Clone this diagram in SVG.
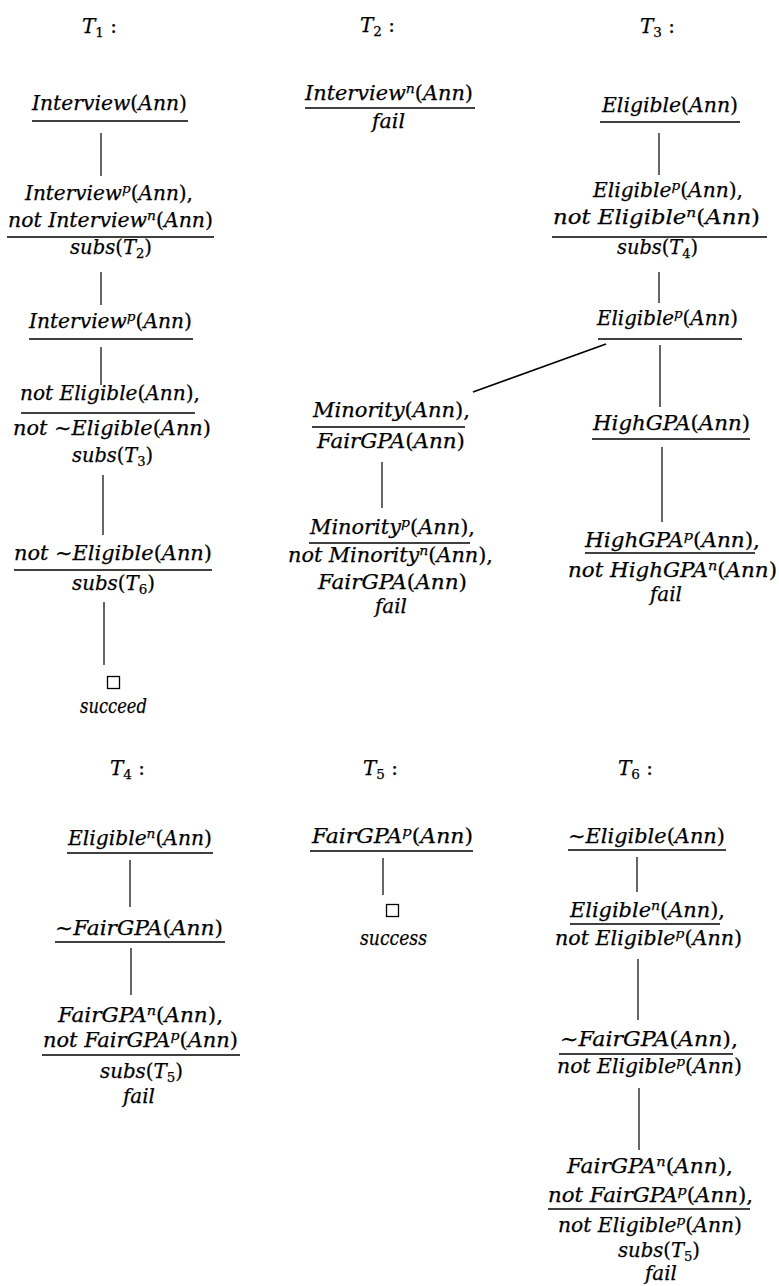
<svg xmlns="http://www.w3.org/2000/svg" width="779" height="1286" viewBox="0 0 779 1286">
<style>
.t{font-family:"DejaVu Serif","Liberation Serif",serif;font-style:italic;font-size:20px;fill:#000;stroke:#000;stroke-width:0.25}
.u{font-style:normal}
.sp{font-size:13.5px}
.sb{font-size:13.5px;font-style:normal}
.ul{stroke:#000;stroke-width:1.4;fill:none}
.ln{stroke:#000;stroke-width:1.2;fill:none}
.dg{stroke:#000;stroke-width:1.8;fill:none}
.box{stroke:#000;stroke-width:1.3;fill:none}
</style>
<rect width="779" height="1286" fill="#fff"/>

<g id="connectors">
<line class="ln" x1="101" y1="133" x2="101" y2="176"/>
<line class="ln" x1="101" y1="272" x2="101" y2="305"/>
<line class="ln" x1="101" y1="347" x2="101" y2="385"/>
<line class="ln" x1="103" y1="475" x2="103" y2="535"/>
<line class="ln" x1="104" y1="602" x2="104" y2="665"/>
<line class="ln" x1="659" y1="133" x2="659" y2="175"/>
<line class="ln" x1="659" y1="272" x2="659" y2="303"/>
<line class="ln" x1="660" y1="345" x2="660" y2="407"/>
<line class="dg" x1="606" y1="344" x2="473" y2="392"/>
<line class="ln" x1="662" y1="447" x2="662" y2="522"/>
<line class="ln" x1="382" y1="462" x2="382" y2="508"/>
<line class="ln" x1="130" y1="860" x2="130" y2="907"/>
<line class="ln" x1="131" y1="948" x2="131" y2="995"/>
<line class="ln" x1="383" y1="858" x2="383" y2="895"/>
<line class="ln" x1="637" y1="857" x2="637" y2="892"/>
<line class="ln" x1="638" y1="959" x2="638" y2="1020"/>
<line class="ln" x1="639" y1="1088" x2="639" y2="1150"/>
</g>

<!-- Labels -->
<g id="label-t1"><text class="t" x="82" y="33">T<tspan class="sb" dy="4">1</tspan><tspan class="u" dy="-4"> :</tspan></text></g>
<g id="label-t2"><text class="t" x="360" y="32">T<tspan class="sb" dy="4">2</tspan><tspan class="u" dy="-4"> :</tspan></text></g>
<g id="label-t3"><text class="t" x="640" y="33">T<tspan class="sb" dy="4">3</tspan><tspan class="u" dy="-4"> :</tspan></text></g>
<g id="label-t4"><text class="t" x="110" y="775">T<tspan class="sb" dy="4">4</tspan><tspan class="u" dy="-4"> :</tspan></text></g>
<g id="label-t5"><text class="t" x="363" y="775">T<tspan class="sb" dy="4">5</tspan><tspan class="u" dy="-4"> :</tspan></text></g>
<g id="label-t6"><text class="t" x="618" y="775">T<tspan class="sb" dy="4">6</tspan><tspan class="u" dy="-4"> :</tspan></text></g>

<!-- T1 -->
<g id="t1-n1">
<text class="t" x="32" y="110" textLength="155" lengthAdjust="spacingAndGlyphs">Interview<tspan class="u">(</tspan>Ann<tspan class="u">)</tspan></text>
<line class="ul" x1="32" y1="121" x2="188" y2="121"/>
</g>
<g id="t1-n2">
<text class="t" x="25" y="200" textLength="168" lengthAdjust="spacingAndGlyphs">Interview<tspan class="sp" dy="-7">p</tspan><tspan class="u" dy="7">(</tspan>Ann<tspan class="u">),</tspan></text>
<text class="t" x="8" y="227" textLength="205" lengthAdjust="spacingAndGlyphs">not Interview<tspan class="sp" dy="-7">n</tspan><tspan class="u" dy="7">(</tspan>Ann<tspan class="u">)</tspan></text>
<line class="ul" x1="7" y1="237" x2="214" y2="237"/>
<text class="t" x="70" y="254" textLength="82" lengthAdjust="spacingAndGlyphs">subs<tspan class="u">(</tspan>T<tspan class="sb" dy="4">2</tspan><tspan class="u" dy="-4">)</tspan></text>
</g>
<g id="t1-n3">
<text class="t" x="29" y="328" textLength="163" lengthAdjust="spacingAndGlyphs">Interview<tspan class="sp" dy="-7">p</tspan><tspan class="u" dy="7">(</tspan>Ann<tspan class="u">)</tspan></text>
<line class="ul" x1="29" y1="339" x2="193" y2="339"/>
</g>
<g id="t1-n4">
<text class="t" x="20" y="400" textLength="180" lengthAdjust="spacingAndGlyphs">not Eligible<tspan class="u">(</tspan>Ann<tspan class="u">),</tspan></text>
<line class="ul" x1="21" y1="413" x2="195" y2="413"/>
<text class="t" x="13" y="435" textLength="198" lengthAdjust="spacingAndGlyphs">not  <tspan class="u">∼</tspan>Eligible<tspan class="u">(</tspan>Ann<tspan class="u">)</tspan></text>
<text class="t" x="72" y="462" textLength="81" lengthAdjust="spacingAndGlyphs">subs<tspan class="u">(</tspan>T<tspan class="sb" dy="4">3</tspan><tspan class="u" dy="-4">)</tspan></text>
</g>
<g id="t1-n5">
<text class="t" x="14" y="560" textLength="198" lengthAdjust="spacingAndGlyphs">not  <tspan class="u">∼</tspan>Eligible<tspan class="u">(</tspan>Ann<tspan class="u">)</tspan></text>
<line class="ul" x1="14" y1="570" x2="212" y2="570"/>
<text class="t" x="72" y="590" textLength="83" lengthAdjust="spacingAndGlyphs">subs<tspan class="u">(</tspan>T<tspan class="sb" dy="4">6</tspan><tspan class="u" dy="-4">)</tspan></text>
</g>
<g id="t1-n6">
<rect class="box" x="107.5" y="676.5" width="12" height="12"/>
<text class="t" x="80" y="713" textLength="67" lengthAdjust="spacingAndGlyphs">succeed</text>
</g>

<!-- T2 -->
<g id="t2-n1">
<text class="t" x="305" y="100" textLength="168" lengthAdjust="spacingAndGlyphs">Interview<tspan class="sp" dy="-7">n</tspan><tspan class="u" dy="7">(</tspan>Ann<tspan class="u">)</tspan></text>
<line class="ul" x1="305" y1="108" x2="475" y2="108"/>
<text class="t" x="372" y="128" textLength="33" lengthAdjust="spacingAndGlyphs">fail</text>
</g>

<!-- T3 -->
<g id="t3-n1">
<text class="t" x="602" y="112" textLength="136" lengthAdjust="spacingAndGlyphs">Eligible<tspan class="u">(</tspan>Ann<tspan class="u">)</tspan></text>
<line class="ul" x1="600" y1="122" x2="740" y2="122"/>
</g>
<g id="t3-n2">
<text class="t" x="593" y="197" textLength="150" lengthAdjust="spacingAndGlyphs">Eligible<tspan class="sp" dy="-7">p</tspan><tspan class="u" dy="7">(</tspan>Ann<tspan class="u">),</tspan></text>
<text class="t" x="553" y="224" textLength="207" lengthAdjust="spacingAndGlyphs">not Eligible<tspan class="sp" dy="-7">n</tspan><tspan class="u" dy="7">(</tspan>Ann<tspan class="u">)</tspan></text>
<line class="ul" x1="552" y1="237" x2="767" y2="237"/>
<text class="t" x="617" y="254" textLength="81" lengthAdjust="spacingAndGlyphs">subs<tspan class="u">(</tspan>T<tspan class="sb" dy="4">4</tspan><tspan class="u" dy="-4">)</tspan></text>
</g>
<g id="t3-n3">
<text class="t" x="597" y="325" textLength="141" lengthAdjust="spacingAndGlyphs">Eligible<tspan class="sp" dy="-7">p</tspan><tspan class="u" dy="7">(</tspan>Ann<tspan class="u">)</tspan></text>
<line class="ul" x1="598" y1="339" x2="742" y2="339"/>
</g>
<g id="t3-n4">
<text class="t" x="593" y="430" textLength="157" lengthAdjust="spacingAndGlyphs">HighGPA<tspan class="u">(</tspan>Ann<tspan class="u">)</tspan></text>
<line class="ul" x1="592" y1="439" x2="750" y2="439"/>
</g>
<g id="t3-n5">
<text class="t" x="585" y="547" textLength="175" lengthAdjust="spacingAndGlyphs">HighGPA<tspan class="sp" dy="-7">p</tspan><tspan class="u" dy="7">(</tspan>Ann<tspan class="u">),</tspan></text>
<line class="ul" x1="585" y1="553" x2="755" y2="553"/>
<text class="t" x="568" y="577" textLength="209" lengthAdjust="spacingAndGlyphs">not HighGPA<tspan class="sp" dy="-7">n</tspan><tspan class="u" dy="7">(</tspan>Ann<tspan class="u">)</tspan></text>
<text class="t" x="650" y="601" textLength="32" lengthAdjust="spacingAndGlyphs">fail</text>
</g>
<g id="t3-n6">
<text class="t" x="313" y="417" textLength="157" lengthAdjust="spacingAndGlyphs">Minority<tspan class="u">(</tspan>Ann<tspan class="u">),</tspan></text>
<line class="ul" x1="312" y1="427" x2="465" y2="427"/>
<text class="t" x="317" y="448" textLength="148" lengthAdjust="spacingAndGlyphs">FairGPA<tspan class="u">(</tspan>Ann<tspan class="u">)</tspan></text>
</g>
<g id="t3-n7">
<text class="t" x="310" y="534" textLength="165" lengthAdjust="spacingAndGlyphs">Minority<tspan class="sp" dy="-7">p</tspan><tspan class="u" dy="7">(</tspan>Ann<tspan class="u">),</tspan></text>
<line class="ul" x1="309" y1="543" x2="470" y2="543"/>
<text class="t" x="288" y="562" textLength="205" lengthAdjust="spacingAndGlyphs">not Minority<tspan class="sp" dy="-7">n</tspan><tspan class="u" dy="7">(</tspan>Ann<tspan class="u">),</tspan></text>
<text class="t" x="318" y="589" textLength="149" lengthAdjust="spacingAndGlyphs">FairGPA<tspan class="u">(</tspan>Ann<tspan class="u">)</tspan></text>
<text class="t" x="375" y="613" textLength="32" lengthAdjust="spacingAndGlyphs">fail</text>
</g>

<!-- T4 -->
<g id="t4-n1">
<text class="t" x="68" y="845" textLength="144" lengthAdjust="spacingAndGlyphs">Eligible<tspan class="sp" dy="-7">n</tspan><tspan class="u" dy="7">(</tspan>Ann<tspan class="u">)</tspan></text>
<line class="ul" x1="67" y1="853" x2="213" y2="853"/>
</g>
<g id="t4-n2">
<text class="t" x="55" y="935" textLength="168" lengthAdjust="spacingAndGlyphs"><tspan class="u">∼</tspan>FairGPA<tspan class="u">(</tspan>Ann<tspan class="u">)</tspan></text>
<line class="ul" x1="55" y1="942" x2="225" y2="942"/>
</g>
<g id="t4-n3">
<text class="t" x="58" y="1022" textLength="165" lengthAdjust="spacingAndGlyphs">FairGPA<tspan class="sp" dy="-7">n</tspan><tspan class="u" dy="7">(</tspan>Ann<tspan class="u">),</tspan></text>
<text class="t" x="43" y="1047" textLength="195" lengthAdjust="spacingAndGlyphs">not FairGPA<tspan class="sp" dy="-7">p</tspan><tspan class="u" dy="7">(</tspan>Ann<tspan class="u">)</tspan></text>
<line class="ul" x1="42" y1="1055" x2="240" y2="1055"/>
<text class="t" x="100" y="1078" textLength="83" lengthAdjust="spacingAndGlyphs">subs<tspan class="u">(</tspan>T<tspan class="sb" dy="4">5</tspan><tspan class="u" dy="-4">)</tspan></text>
<text class="t" x="123" y="1103" textLength="32" lengthAdjust="spacingAndGlyphs">fail</text>
</g>

<!-- T5 -->
<g id="t5-n1">
<text class="t" x="312" y="843" textLength="161" lengthAdjust="spacingAndGlyphs">FairGPA<tspan class="sp" dy="-7">p</tspan><tspan class="u" dy="7">(</tspan>Ann<tspan class="u">)</tspan></text>
<line class="ul" x1="310" y1="851" x2="473" y2="851"/>
</g>
<g id="t5-n2">
<rect class="box" x="386.5" y="904.5" width="12" height="12"/>
<text class="t" x="360" y="945" textLength="67" lengthAdjust="spacingAndGlyphs">success</text>
</g>

<!-- T6 -->
<g id="t6-n1">
<text class="t" x="568" y="843" textLength="157" lengthAdjust="spacingAndGlyphs"><tspan class="u">∼</tspan>Eligible<tspan class="u">(</tspan>Ann<tspan class="u">)</tspan></text>
<line class="ul" x1="568" y1="850" x2="726" y2="850"/>
</g>
<g id="t6-n2">
<text class="t" x="570" y="917" textLength="155" lengthAdjust="spacingAndGlyphs">Eligible<tspan class="sp" dy="-7">n</tspan><tspan class="u" dy="7">(</tspan>Ann<tspan class="u">),</tspan></text>
<line class="ul" x1="570" y1="924" x2="720" y2="924"/>
<text class="t" x="555" y="945" textLength="187" lengthAdjust="spacingAndGlyphs">not Eligible<tspan class="sp" dy="-7">p</tspan><tspan class="u" dy="7">(</tspan>Ann<tspan class="u">)</tspan></text>
</g>
<g id="t6-n3">
<text class="t" x="560" y="1046" textLength="178" lengthAdjust="spacingAndGlyphs"><tspan class="u">∼</tspan>FairGPA<tspan class="u">(</tspan>Ann<tspan class="u">),</tspan></text>
<line class="ul" x1="559" y1="1054" x2="733" y2="1054"/>
<text class="t" x="557" y="1073" textLength="185" lengthAdjust="spacingAndGlyphs">not Eligible<tspan class="sp" dy="-7">p</tspan><tspan class="u" dy="7">(</tspan>Ann<tspan class="u">)</tspan></text>
</g>
<g id="t6-n4">
<text class="t" x="567" y="1173" textLength="166" lengthAdjust="spacingAndGlyphs">FairGPA<tspan class="sp" dy="-7">n</tspan><tspan class="u" dy="7">(</tspan>Ann<tspan class="u">),</tspan></text>
<text class="t" x="548" y="1202" textLength="205" lengthAdjust="spacingAndGlyphs">not FairGPA<tspan class="sp" dy="-7">p</tspan><tspan class="u" dy="7">(</tspan>Ann<tspan class="u">),</tspan></text>
<line class="ul" x1="548" y1="1209" x2="750" y2="1209"/>
<text class="t" x="558" y="1232" textLength="184" lengthAdjust="spacingAndGlyphs">not Eligible<tspan class="sp" dy="-7">p</tspan><tspan class="u" dy="7">(</tspan>Ann<tspan class="u">)</tspan></text>
<text class="t" x="618" y="1257" textLength="82" lengthAdjust="spacingAndGlyphs">subs<tspan class="u">(</tspan>T<tspan class="sb" dy="4">5</tspan><tspan class="u" dy="-4">)</tspan></text>
<text class="t" x="645" y="1280" textLength="32" lengthAdjust="spacingAndGlyphs">fail</text>
</g>
</svg>
